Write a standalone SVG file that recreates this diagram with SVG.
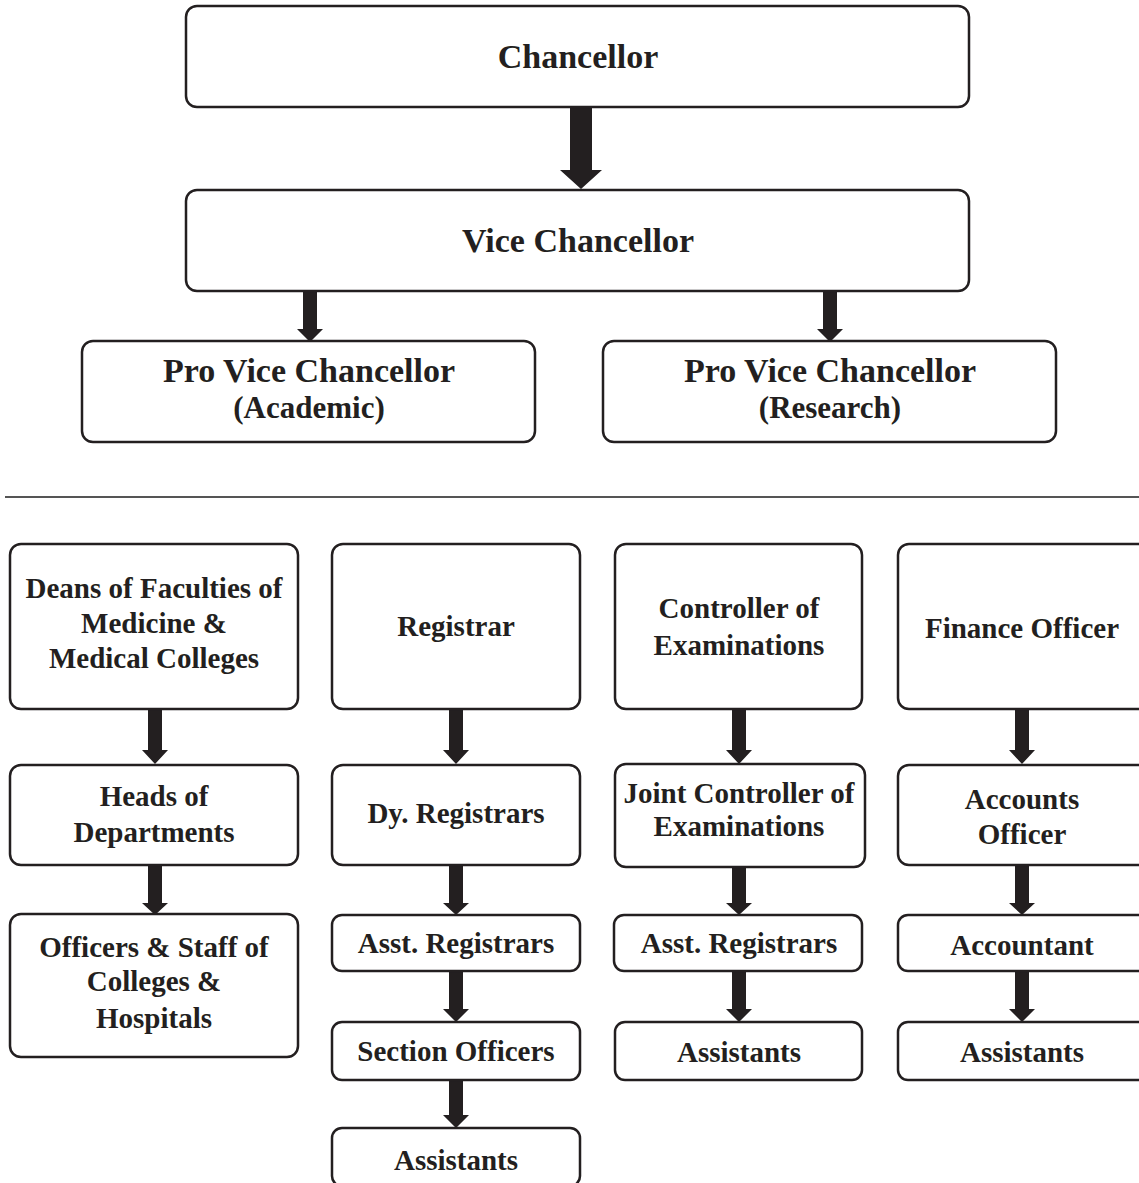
<svg xmlns="http://www.w3.org/2000/svg" width="1139" height="1183" viewBox="0 0 1139 1183">
<style>
.box{fill:#fff;stroke:#231f20;stroke-width:2.5}
.t{font-family:"Liberation Serif","Times New Roman",serif;font-weight:bold;fill:#231f20;text-anchor:middle}
.t1{font-size:34px}
.t2{font-size:31px}
.t3{font-size:29px}
.arr{fill:#231f20}
</style>
<rect width="1139" height="1183" fill="#fff"/>
<g id="connectors">
<path class="arr" d="M570,107 h22 V170 h10 L581,189 L560,170 h10 Z"/>
<path class="arr" d="M303,291 h14 V329 h6 L310,342 L297,329 h6 Z"/>
<path class="arr" d="M823,291 h14 V329 h6 L830,342 L817,329 h6 Z"/>
<path class="arr" d="M148,709 h14 V750 h6 L155,764 L142,750 h6 Z"/>
<path class="arr" d="M449,709 h14 V750 h6 L456,764 L443,750 h6 Z"/>
<path class="arr" d="M732,709 h14 V750 h6 L739,764 L726,750 h6 Z"/>
<path class="arr" d="M1015,709 h14 V750 h6 L1022,764 L1009,750 h6 Z"/>
<path class="arr" d="M148,865 h14 V903 h6 L155,915 L142,903 h6 Z"/>
<path class="arr" d="M449,865 h14 V903 h6 L456,915 L443,903 h6 Z"/>
<path class="arr" d="M732,867 h14 V903 h6 L739,915 L726,903 h6 Z"/>
<path class="arr" d="M1015,865 h14 V903 h6 L1022,915 L1009,903 h6 Z"/>
<path class="arr" d="M449,971 h14 V1009 h6 L456,1022 L443,1009 h6 Z"/>
<path class="arr" d="M732,971 h14 V1009 h6 L739,1022 L726,1009 h6 Z"/>
<path class="arr" d="M1015,971 h14 V1009 h6 L1022,1022 L1009,1009 h6 Z"/>
<path class="arr" d="M449,1080 h14 V1115 h6 L456,1128 L443,1115 h6 Z"/>
</g>
<line x1="5" y1="497" x2="1139" y2="497" stroke="#555" stroke-width="2"/>
<g id="chancellor"><rect class="box" x="186" y="6" width="783" height="101" rx="11"/><text class="t t1" x="578" y="68">Chancellor</text></g>
<g id="vice-chancellor"><rect class="box" x="186" y="190" width="783" height="101" rx="11"/><text class="t t1" x="578" y="252">Vice Chancellor</text></g>
<g id="pvc-academic"><rect class="box" x="82" y="341" width="453" height="101" rx="11"/><text class="t t1" x="309" y="382">Pro Vice Chancellor</text><text class="t t2" x="309" y="418">(Academic)</text></g>
<g id="pvc-research"><rect class="box" x="603" y="341" width="453" height="101" rx="11"/><text class="t t1" x="830" y="382">Pro Vice Chancellor</text><text class="t t2" x="830" y="418">(Research)</text></g>
<g id="deans"><rect class="box" x="10" y="544" width="288" height="165" rx="11"/><text class="t t3" x="154" y="598">Deans of Faculties of</text><text class="t t3" x="154" y="633">Medicine &amp;</text><text class="t t3" x="154" y="668">Medical Colleges</text></g>
<g id="registrar"><rect class="box" x="332" y="544" width="248" height="165" rx="11"/><text class="t t3" x="456" y="636">Registrar</text></g>
<g id="controller"><rect class="box" x="615" y="544" width="247" height="165" rx="11"/><text class="t t3" x="739" y="618">Controller of</text><text class="t t3" x="739" y="655">Examinations</text></g>
<g id="finance"><rect class="box" x="898" y="544" width="260" height="165" rx="11"/><text class="t t3" x="1022" y="638">Finance Officer</text></g>
<g id="heads"><rect class="box" x="10" y="765" width="288" height="100" rx="11"/><text class="t t3" x="154" y="806">Heads of</text><text class="t t3" x="154" y="842">Departments</text></g>
<g id="dy-registrars"><rect class="box" x="332" y="765" width="248" height="100" rx="11"/><text class="t t3" x="456" y="823">Dy. Registrars</text></g>
<g id="joint-controller"><rect class="box" x="615" y="764" width="250" height="103" rx="11" stroke-width="3"/><text class="t t3" x="739" y="803">Joint Controller of</text><text class="t t3" x="739" y="836">Examinations</text></g>
<g id="accounts-officer"><rect class="box" x="898" y="765" width="260" height="100" rx="11"/><text class="t t3" x="1022" y="809">Accounts</text><text class="t t3" x="1022" y="844">Officer</text></g>
<g id="officers-staff"><rect class="box" x="10" y="914" width="288" height="143" rx="11"/><text class="t t3" x="154" y="957">Officers &amp; Staff of</text><text class="t t3" x="154" y="991">Colleges &amp;</text><text class="t t3" x="154" y="1028">Hospitals</text></g>
<g id="asst-registrars-1"><rect class="box" x="332" y="915" width="248" height="56" rx="10"/><text class="t t3" x="456" y="953">Asst. Registrars</text></g>
<g id="asst-registrars-2"><rect class="box" x="614" y="915" width="248" height="56" rx="10"/><text class="t t3" x="739" y="953">Asst. Registrars</text></g>
<g id="accountant"><rect class="box" x="898" y="915" width="260" height="56" rx="10"/><text class="t t3" x="1022" y="955">Accountant</text></g>
<g id="section-officers"><rect class="box" x="332" y="1022" width="248" height="58" rx="10"/><text class="t t3" x="456" y="1061">Section Officers</text></g>
<g id="assistants-1"><rect class="box" x="332" y="1128" width="248" height="58" rx="10"/><text class="t t3" x="456" y="1170">Assistants</text></g>
<g id="assistants-2"><rect class="box" x="615" y="1022" width="247" height="58" rx="10"/><text class="t t3" x="739" y="1062">Assistants</text></g>
<g id="assistants-3"><rect class="box" x="898" y="1022" width="260" height="58" rx="10"/><text class="t t3" x="1022" y="1062">Assistants</text></g>
</svg>
